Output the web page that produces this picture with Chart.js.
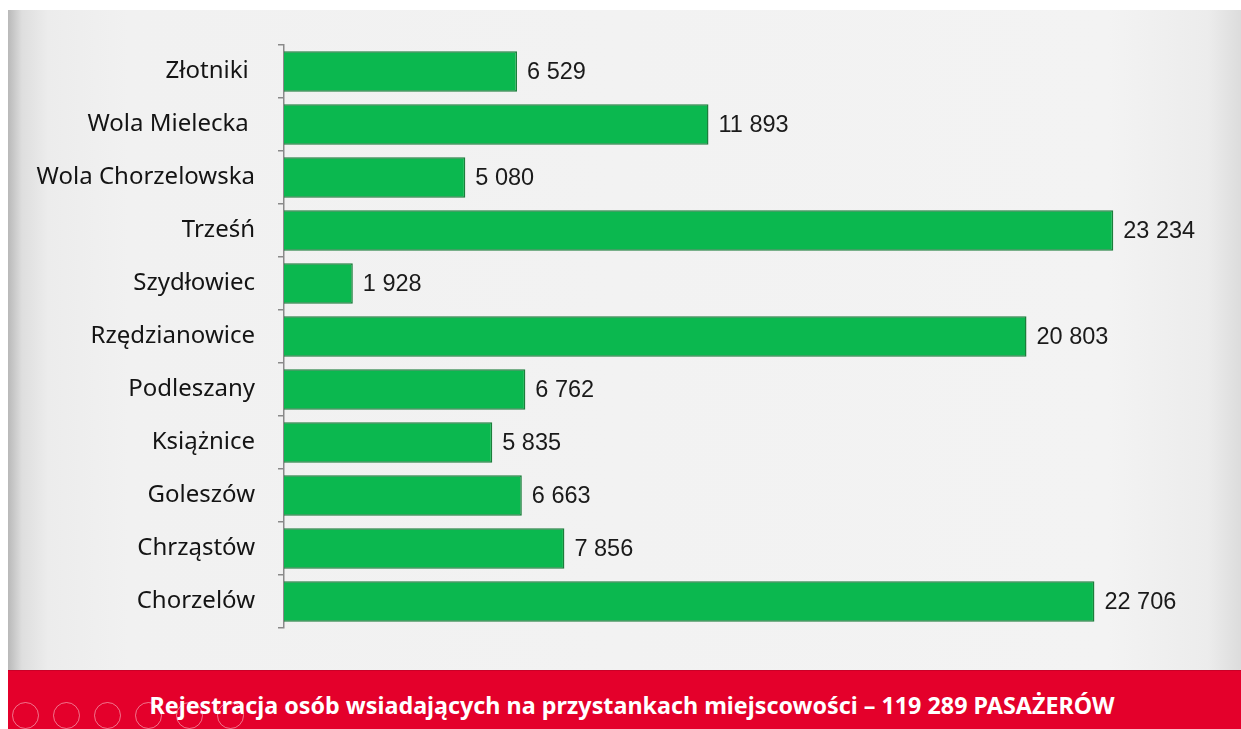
<!DOCTYPE html>
<html>
<head>
<meta charset="utf-8">
<script src="https://cdn.jsdelivr.net/npm/chart.js@4/dist/chart.umd.min.js"></script>
<style>
  html, body { margin: 0; padding: 0; background: #ffffff; }
  #slide {
    position: absolute; left: 8px; top: 10px; width: 1233px; height: 660px;
    background: linear-gradient(to right, #b9b9b9 0px, #dedede 14px, #ececec 40px, #f1f1f1 120px, #f3f3f3 1100px, #ececec 1200px, #dcdcdc 1233px);
  }
  #band {
    position: absolute; left: 8px; top: 670px; width: 1233px; height: 59px;
    background: #e4002b; border-top: 1px solid #c90027;
  }
  #title {
    position: absolute; left: 0; top: 689px; width: 1264px; text-align: center;
    color: #ffffff; font-family: "Noto Sans", sans-serif; font-weight: bold; font-size: 23.3px;
    white-space: nowrap;
  }
  .icon {
    position: absolute; top: 702px; width: 27px; height: 27px; border-radius: 50%;
    border: 1px solid rgba(255,255,255,0.45); box-sizing: border-box;
  }
  #wrap { position: absolute; left: 0; top: 0; width: 1241px; height: 729px; }
</style>
</head>
<body>
<div id="slide"></div>
<div id="band"></div>
<div class="icon" style="left:12px"></div>
<div class="icon" style="left:53px"></div>
<div class="icon" style="left:94px"></div>
<div class="icon" style="left:135px"></div>
<div class="icon" style="left:176px"></div>
<div class="icon" style="left:217px"></div>
<div id="title">Rejestracja osób wsiadających na przystankach miejscowości – 119 289 PASAŻERÓW</div>
<div id="wrap"><canvas id="chart"></canvas></div>
<script>
// kolejność od góry do dołu
const miejscowosci = ["Złotniki ", "Wola Mielecka ", "Wola Chorzelowska", "Trześń", "Szydłowiec",
  "Rzędzianowice", "Podleszany", "Książnice", "Goleszów", "Chrząstów", "Chorzelów"];
const pasazerowie = [6529, 11893, 5080, 23234, 1928, 20803, 6762, 5835, 6663, 7856, 22706];
const osX = { min: 0, max: 26000 };

function formatNum(v) {
  return String(v).replace(/\B(?=(\d{3})+(?!\d))/g, " ");
}

// etykiety wartości za słupkami
const valueLabels = {
  id: "valueLabels",
  afterDatasetsDraw(chart) {
    const ctx = chart.ctx;
    const meta = chart.getDatasetMeta(0);
    ctx.save();
    ctx.font = "23.5px 'Liberation Sans', Arial, sans-serif";
    ctx.fillStyle = "#1a1a1a";
    ctx.textBaseline = "middle";
    ctx.textAlign = "left";
    meta.data.forEach((bar, i) => {
      ctx.fillText(formatNum(pasazerowie[i]), bar.x + 10, bar.y + 1);
    });
    ctx.restore();
  }
};

function barGradient(context) {
  const chart = context.chart;
  const el = context.element;
  if (!chart.chartArea || !el || !Number.isFinite(el.y) || !Number.isFinite(el.height)) return "#0bb84f";
  const h = el.height;
  const g = chart.ctx.createLinearGradient(0, el.y - h / 2, 0, el.y + h / 2);
  g.addColorStop(0, "#3ad273");
  g.addColorStop(0.08, "#10c058");
  g.addColorStop(0.85, "#07b64d");
  g.addColorStop(1, "#0a9b42");
  return g;
}

new Chart(document.getElementById("chart"), {
  type: "bar",
  data: {
    labels: miejscowosci,
    datasets: [{
      data: pasazerowie,
      backgroundColor: barGradient,
      borderColor: "#1b7e3b",
      borderWidth: 1.5,
      borderSkipped: "left",
      barPercentage: 0.76,
      categoryPercentage: 1
    }]
  },
  options: {
    indexAxis: "y",
    responsive: true,
    maintainAspectRatio: false,
    animation: false,
    layout: { padding: { left: 0, top: 45, right: 29, bottom: 101 } },
    plugins: { legend: { display: false }, tooltip: { enabled: false } },
    scales: {
      x: { display: false, min: osX.min, max: osX.max },
      y: {
        afterFit(scale) { scale.width = 284; },
        grid: { drawOnChartArea: false, drawTicks: true, tickLength: 6, color: "#8a8a8a", lineWidth: 1.5 },
        border: { display: true, color: "#8a8a8a", width: 1.5 },
        ticks: {
          color: "#141414",
          padding: 23,
          font: { family: "'Noto Sans', sans-serif", size: 24 }
        }
      }
    }
  },
  plugins: [valueLabels]
});
</script>
</body>
</html>
